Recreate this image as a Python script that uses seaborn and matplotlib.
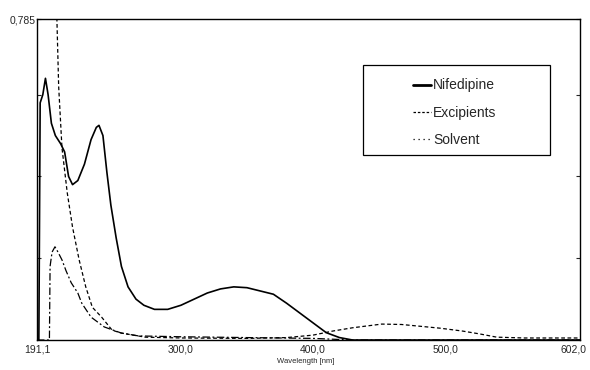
import numpy as np
import pandas as pd
import matplotlib
matplotlib.use("Agg")
import matplotlib.pyplot as plt
import matplotlib.transforms as mtransforms
from matplotlib.lines import Line2D
from matplotlib.patches import Rectangle
import seaborn as sns

# spectra (wavelength nm, absorbance)
nif_wl = [191.1, 192.5, 193.5, 195.5, 197.5, 199.5, 202, 205, 209, 212, 215, 218, 222, 227,
          232, 236, 238, 241, 244, 247, 251, 255, 260, 266, 272, 280, 290, 300, 310, 320,
          330, 340, 350, 360, 370, 380, 390, 400, 410, 420, 430, 602]
nif_abs = [0.0, 0.0, 0.58, 0.60, 0.64, 0.60, 0.53, 0.50, 0.48, 0.46, 0.40, 0.38, 0.39, 0.43,
           0.49, 0.52, 0.525, 0.50, 0.41, 0.33, 0.25, 0.18, 0.13, 0.10, 0.085, 0.075, 0.075,
           0.085, 0.10, 0.115, 0.125, 0.13, 0.128, 0.12, 0.112, 0.09, 0.066, 0.042, 0.018,
           0.006, 0.0, 0.0]

exc_wl = [205.0, 206.2, 207.5, 210, 214, 218, 223, 228, 233, 240, 248, 255, 273, 300, 350,
          380, 400, 415, 430, 452, 467, 480, 496, 513, 526, 539, 560, 602]
exc_abs = [0.95, 0.78, 0.62, 0.47, 0.36, 0.276, 0.196, 0.13, 0.08, 0.056, 0.024, 0.017,
           0.007, 0.005, 0.004, 0.006, 0.012, 0.022, 0.03, 0.039, 0.038, 0.034, 0.029,
           0.022, 0.015, 0.007, 0.005, 0.005]

sol_wl = [191.1, 200.5, 201.0, 202.5, 204.7, 207, 210, 213, 217, 222, 225, 232, 242, 255,
          268, 300, 350, 400, 430, 602]
sol_abs = [0.0, 0.0, 0.18, 0.215, 0.228, 0.215, 0.196, 0.17, 0.14, 0.115, 0.09, 0.056,
           0.032, 0.017, 0.01, 0.008, 0.006, 0.004, 0.0, 0.0]

x_ticks = [191.1, 300.0, 400.0, 500.0, 602.0]
x_labels = ["191,1", "300,0", "400,0", "500,0", "602,0"]

sns.set_style("white")
plt.rcParams["font.family"] = ["Liberation Sans", "DejaVu Sans"]

fig = plt.figure(figsize=(5.9, 3.7), dpi=100)
ax = fig.add_axes([0.0627, 0.081, 0.9203, 0.8676])

sns.lineplot(x=nif_wl, y=nif_abs, ax=ax, color="black", lw=1.2)
sns.lineplot(x=exc_wl, y=exc_abs, ax=ax, color="black", lw=0.9)
ax.lines[-1].set_dashes((3, 2))
sns.lineplot(x=sol_wl, y=sol_abs, ax=ax, color="black", lw=0.9)
ax.lines[-1].set_dashes((6, 2, 1.5, 2))

ax.set_xlim(191.1, 602.0)
ax.set_ylim(0, 0.785)
ax.set_xticks(x_ticks)
ax.set_xticklabels(x_labels, fontsize=7.5)
ax.set_yticks([0.2, 0.4, 0.6, 0.785])
ax.set_yticklabels(["", "", "", "0,785"], fontsize=7.5)
ax.tick_params(axis="y", direction="in", length=3, right=True, left=True, pad=1)
ax.tick_params(axis="x", direction="in", length=3, pad=3)
# pull the last x label back inside the figure
last = ax.get_xticklabels()[-1]
last.set_transform(last.get_transform() +
                   mtransforms.ScaledTranslation(-6 / 100, 0, fig.dpi_scale_trans))

ax.set_xlabel("Wavelength [nm]", fontsize=5.5)
ax.xaxis.set_label_coords(0.495, -0.055)
ax.set_ylabel("")

for s in ax.spines.values():
    s.set_visible(True)
    s.set_color("black")
    s.set_linewidth(1.0)

# legend box
fig.patches.append(Rectangle((363 / 590, 1 - 155 / 370), 187 / 590, 90 / 370,
                             transform=fig.transFigure, fill=False, edgecolor="black",
                             lw=0.9))
handles = [Line2D([], [], color="black", lw=2),
           Line2D([], [], color="black", lw=0.9, linestyle=(0, (2, 1.5))),
           Line2D([], [], color="black", lw=0.9, linestyle=(0, (1, 3)))]
fig.legend(handles, ["Nifedipine", "Excipients", "Solvent"], frameon=False,
           loc="upper left", bbox_to_anchor=(400 / 590, 1 - 66 / 370),
           fontsize=10, handlelength=1.3, handletextpad=0.2, labelspacing=0.95)

fig.savefig("out.png", dpi=100)
